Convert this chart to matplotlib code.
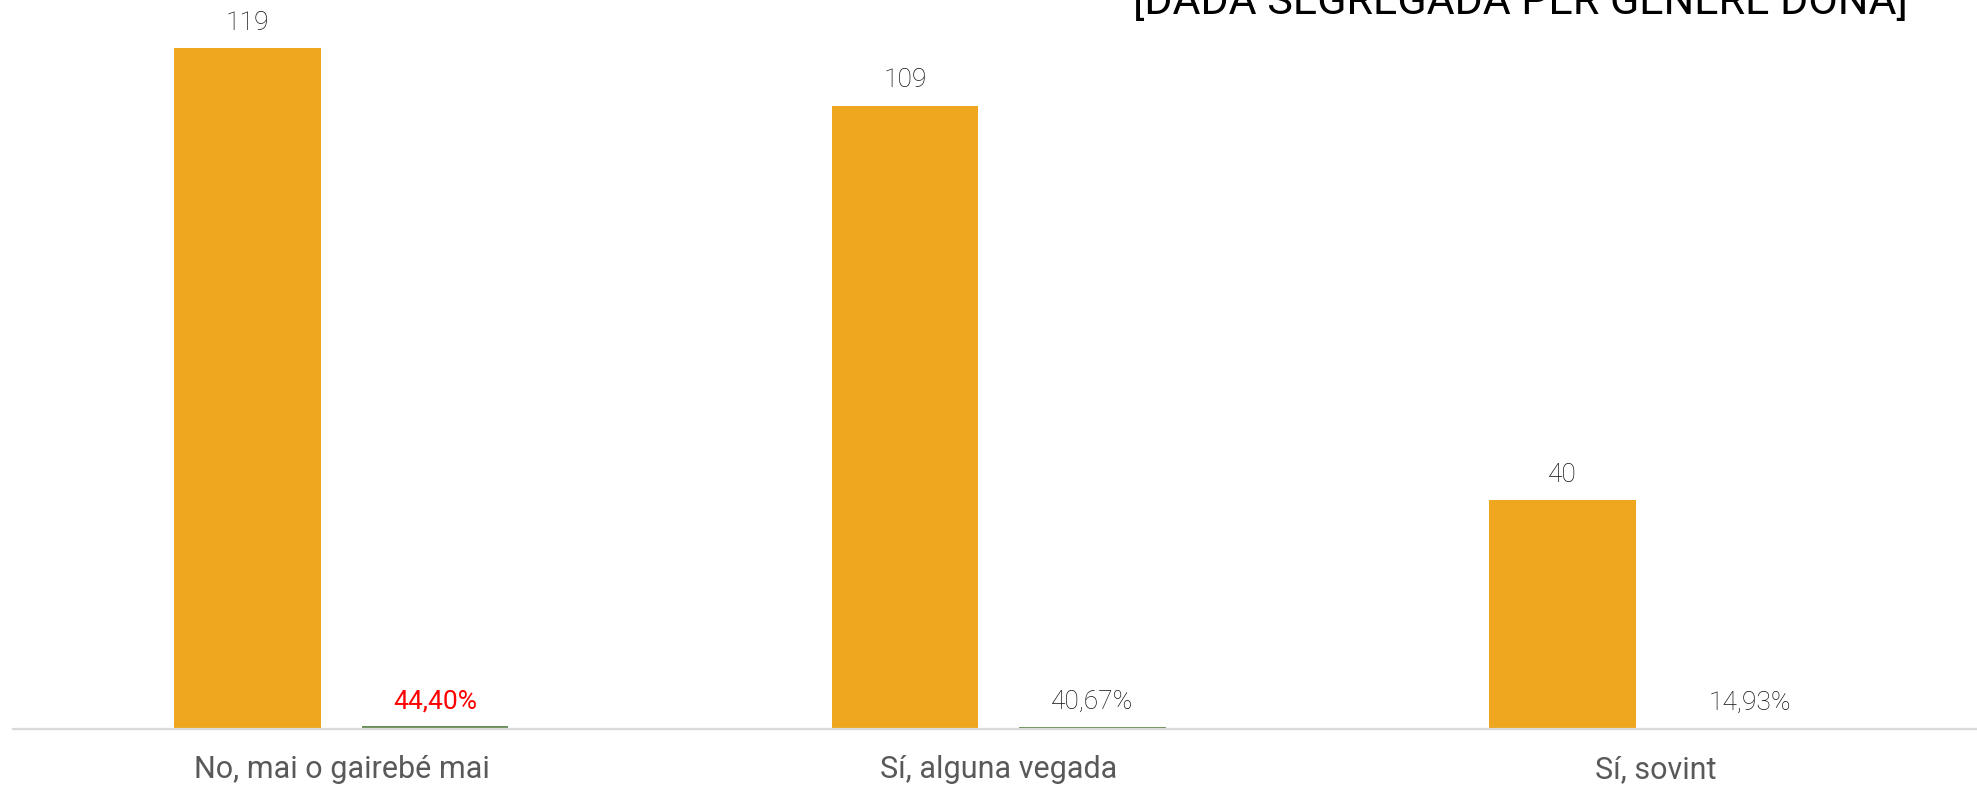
import numpy as np
import matplotlib.pyplot as plt

# ---------- DATA ----------
categories = ["No, mai o gairebé mai", "Sí, alguna vegada", "Sí, sovint"]
counts = [119, 109, 40]
shares = [0.4440, 0.4067, 0.1493]
share_labels = ["44,40%", "40,67%", "14,93%"]
share_label_colors = ["#FF0000", "#111111", "#111111"]
title = "[DADA SEGREGADA PER GENERE DONA]"
# --------------------------

ORANGE = "#EFA720"
GREEN = "#6A8F5A"
GREY_TXT = "#111111"

plt.rcParams['font.family'] = ['Roboto', 'DejaVu Sans']

W, H = 1977, 789
fig = plt.figure(figsize=(W / 100, H / 100), dpi=100)
# axes spans slightly past the right edge so category spacing matches
ax_left, ax_right = 12.8, 1984.4
ax = fig.add_axes([ax_left / W, (H - 729) / H, (ax_right - ax_left) / W, (729 - 14) / H])

x = np.arange(len(categories))
w = 0.2235
off = 0.1425
b1 = ax.bar(x - off, counts, w, color=ORANGE)
b2 = ax.bar(x + off, shares, w, color=GREEN)

ax.set_xlim(-0.5, len(categories) - 0.5)
ax.set_ylim(0, 125)

for rect, v in zip(b1, counts):
    ax.annotate(str(v), (rect.get_x() + rect.get_width() / 2, rect.get_height()),
                xytext=(0, 9.5), textcoords='offset points', ha='center', va='bottom',
                fontsize=19, fontweight='light', color=GREY_TXT)
for rect, lab, c in zip(b2, share_labels, share_label_colors):
    ax.annotate(lab, (rect.get_x() + rect.get_width() / 2, rect.get_height()),
                xytext=(0, 9.5), textcoords='offset points', ha='center', va='bottom',
                fontsize=19, fontweight='light' if c != "#FF0000" else 'normal', color=c)

ax.set_xticks(x)
ax.set_xticklabels(categories, fontsize=22, color="#595959")
ax.tick_params(axis='x', length=0, pad=19)
ax.set_yticks([])
for s in ['top', 'right', 'left']:
    ax.spines[s].set_visible(False)
ax.spines['bottom'].set_color('#D9D9D9')
ax.spines['bottom'].set_linewidth(1.6)

fig.text(1908 / W, 1 - 14 / H, title, ha='right', va='baseline', fontsize=31, color='black')

fig.savefig("out.png", dpi=100)
